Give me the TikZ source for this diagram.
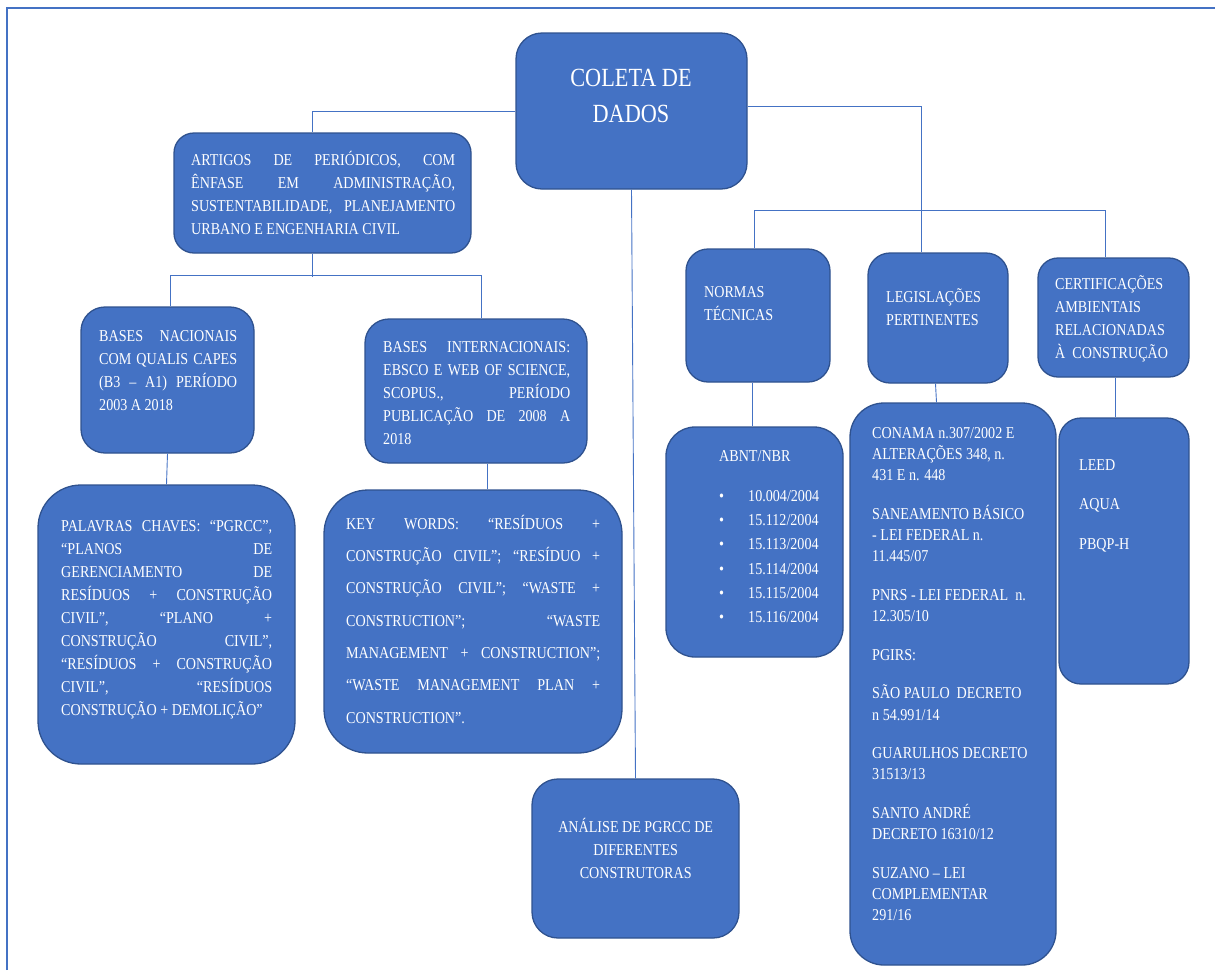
\documentclass[tikz,border=0pt]{standalone}
\usepackage{fontspec}
\setmainfont{Liberation Serif}[FakeStretch=0.85]
\tolerance=10000
\hbadness=10000
\definecolor{boxfill}{HTML}{4472C4}
\definecolor{boxline}{HTML}{2F528F}
\tikzset{
  box/.style={draw=boxline, fill=boxfill, line width=1.3pt, inner sep=0pt},
  txt/.style={text=white, inner sep=0pt, anchor=north west, align=left,
    font=\fontsize{16.6}{23}\selectfont, execute at begin node=\strut},
  link/.style={draw=boxfill, line width=0.9pt},
  frame/.style={draw=boxfill, line width=1.5pt}
}
\begin{document}
\begin{tikzpicture}[x=1pt,y=-1pt]
  \useasboundingbox (0,0) rectangle (1215,970);
  \draw[frame] (7,970) -- (7,8) -- (1215,8);

  % caixas
  \node[box, minimum width=231, minimum height=156, rounded corners=26pt] (coleta) at (631.5,111) {};
  \node[box, minimum width=297, minimum height=120, rounded corners=20pt] (artigos) at (322.5,193) {};
  \node[box, minimum width=173, minimum height=146, rounded corners=24pt] (nac) at (167.5,380) {};
  \node[box, minimum width=222, minimum height=144, rounded corners=24pt] (inter) at (476,391) {};
  \node[box, minimum width=257, minimum height=279, rounded corners=43pt] (palavras) at (166.5,624.5) {};
  \node[box, minimum width=298, minimum height=263, rounded corners=44pt] (keyw) at (473,621.5) {};
  \node[box, minimum width=207, minimum height=159, rounded corners=26pt] (analise) at (635.5,858.5) {};
  \node[box, minimum width=144, minimum height=133, rounded corners=22pt] (normas) at (758,315.5) {};
  \node[box, minimum width=140, minimum height=130, rounded corners=22pt] (legis) at (938,318) {};
  \node[box, minimum width=151, minimum height=119, rounded corners=20pt] (cert) at (1113.5,317.5) {};
  \node[box, minimum width=177, minimum height=230, rounded corners=29pt] (abnt) at (754.5,542) {};
  \node[box, minimum width=206, minimum height=562, rounded corners=34pt] (conama) at (953,684) {};
  \node[box, minimum width=130, minimum height=266, rounded corners=22pt] (leed) at (1124,551) {};

  % textos
  \node[txt, anchor=north, align=center, font=\fontsize{26.2}{35.5}\selectfont] (coletaT) at (631,69) {COLETA DE\\DADOS};
  \node[txt, align=justify, text width=264pt] (artigosT) at (191,149) {ARTIGOS DE PERIÓDICOS, COM\linebreak ÊNFASE EM ADMINISTRAÇÃO,\linebreak SUSTENTABILIDADE, PLANEJAMENTO\linebreak URBANO E ENGENHARIA CIVIL};
  \node[txt, align=justify, text width=138pt] (nacT) at (99,325) {BASES NACIONAIS\linebreak COM QUALIS CAPES\linebreak (B3 – A1) PERÍODO\linebreak 2003 A 2018};
  \node[txt, align=justify, text width=187pt] (interT) at (383,336) {BASES INTERNACIONAIS:\linebreak EBSCO E WEB OF SCIENCE,\linebreak SCOPUS., PERÍODO\linebreak PUBLICAÇÃO DE 2008 A\linebreak 2018};
  \node[txt, align=justify, text width=211pt] (palavrasT) at (61,515) {PALAVRAS CHAVES: “PGRCC”,\linebreak “PLANOS DE\linebreak GERENCIAMENTO DE\linebreak RESÍDUOS + CONSTRUÇÃO\linebreak CIVIL”, “PLANO +\linebreak CONSTRUÇÃO CIVIL”,\linebreak “RESÍDUOS + CONSTRUÇÃO\linebreak CIVIL”, “RESÍDUOS\linebreak CONSTRUÇÃO + DEMOLIÇÃO”};
  \node[txt, align=justify, text width=254pt, font=\fontsize{16.6}{32.3}\selectfont] (keywT) at (346,506.4) {KEY WORDS: “RESÍDUOS +\linebreak CONSTRUÇÃO CIVIL”; “RESÍDUO +\linebreak CONSTRUÇÃO CIVIL”; “WASTE +\linebreak CONSTRUCTION”; “WASTE\linebreak MANAGEMENT + CONSTRUCTION”;\linebreak “WASTE MANAGEMENT PLAN +\linebreak CONSTRUCTION”.};
  \node[txt, anchor=north, align=center] (analiseT) at (635.7,818) {ANÁLISE DE PGRCC DE\\DIFERENTES\\CONSTRUTORAS};
  \node[txt] (normasT) at (704,286) {NORMAS\\TÉCNICAS};
  \node[txt] (legisT) at (886,288) {LEGISLAÇÕES\\PERTINENTES};
  \node[txt] (certT) at (1055,275) {CERTIFICAÇÕES\\AMBIENTAIS\\RELACIONADAS\\À\ \ CONSTRUÇÃO};
  \node[txt, font=\fontsize{16.6}{24.3}\selectfont] (abntT) at (719,450) {ABNT/NBR\\[15.7pt]
    \makebox[29pt][l]{\textbullet}10.004/2004\\
    \makebox[29pt][l]{\textbullet}15.112/2004\\
    \makebox[29pt][l]{\textbullet}15.113/2004\\
    \makebox[29pt][l]{\textbullet}15.114/2004\\
    \makebox[29pt][l]{\textbullet}15.115/2004\\
    \makebox[29pt][l]{\textbullet}15.116/2004};
  \node[txt, font=\fontsize{16.6}{21.3}\selectfont] (conamaT) at (872,427) {CONAMA n.307/2002 E\\ALTERAÇÕES 348, n.\\431 E n. 448\\[17.2pt]
    SANEAMENTO BÁSICO\\- LEI FEDERAL n.\\11.445/07\\[17.2pt]
    PNRS - LEI FEDERAL\ \ n.\\12.305/10\\[17.2pt]
    PGIRS:\\[17.2pt]
    SÃO PAULO\ \ DECRETO\\n 54.991/14\\[17.2pt]
    GUARULHOS DECRETO\\31513/13\\[17.2pt]
    SANTO ANDRÉ\\DECRETO 16310/12\\[17.2pt]
    SUZANO – LEI\\COMPLEMENTAR\\291/16};
  \node[txt, font=\fontsize{16.6}{39.7}\selectfont] (leedT) at (1079,459) {LEED\\AQUA\\PBQP-H};

  % ligacoes
  \draw[link] (coleta.west) -| ([xshift=-10.5pt]artigos.north);
  \draw[link] ([yshift=5pt]coleta.east) -| ([xshift=-17pt]legis.north);
  \draw[link] ([xshift=-4pt]normas.north) -- ++(0,-38) -| ([xshift=-8.5pt]cert.north);
  \draw[link] (coleta.south) -- (analise.north);
  \draw[link] ([xshift=-10.5pt]artigos.south) -- ++(0,23.5);
  \draw[link] ([xshift=2.5pt]nac.north) -- ++(0,-30.5) -| ([xshift=5.5pt]inter.north);
  \draw[link] (nac.south) -- (palavras.north);
  \draw[link] ([xshift=11pt]inter.south) -- ([xshift=14pt]keyw.north);
  \draw[link] ([xshift=-6pt]normas.south) -- ([xshift=-2.5pt]abnt.north);
  \draw[link] ([xshift=-2.5pt]legis.south) -- ([xshift=-16.5pt]conama.north);
  \draw[link] ([xshift=1.5pt]cert.south) -- ([xshift=-9pt]leed.north);
\end{tikzpicture}
\end{document}
